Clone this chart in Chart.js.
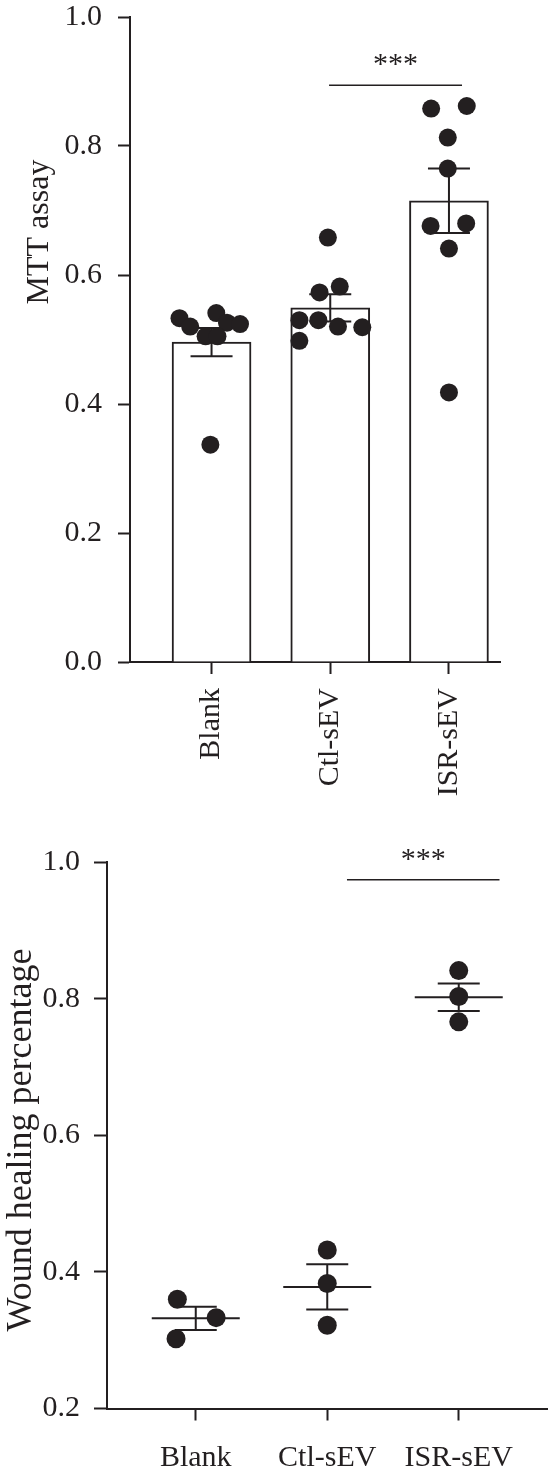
<!DOCTYPE html>
<html>
<head>
<meta charset="utf-8">
<title>MTT assay / Wound healing</title>
<script src="https://cdn.jsdelivr.net/npm/chart.js@4.4.1/dist/chart.umd.min.js"></script>
<style>
    html, body { margin: 0; padding: 0; background: #fff; }
    body { width: 557px; height: 1475px; position: relative; overflow: hidden; }
    canvas { position: absolute; left: 0; }
    #mttChart { top: -17px; }
    #woundChart { top: 820px; }
</style>
</head>
<body>
<canvas id="mttChart" width="557" height="817"></canvas>
<canvas id="woundChart" width="557" height="655"></canvas>
<script>
// ==========================================
// DATOS
// ==========================================
const groups = ['Blank', 'Ctl-sEV', 'ISR-sEV'];

// MTT (barras + puntos)
const mttYTicks = [0, 0.2, 0.4, 0.6, 0.8, 1.0];
const mttMeans = [0.496, 0.549, 0.715];
const mttSem = [0.022, 0.021, 0.050];
const mttBlank = [0.533, 0.520, 0.541, 0.526, 0.524, 0.505, 0.505, 0.337];
const mttCtl = [0.573, 0.582, 0.530, 0.530, 0.520, 0.519, 0.498, 0.658];
const mttIsr = [0.858, 0.862, 0.813, 0.765, 0.676, 0.680, 0.641, 0.418];

// Wound healing (puntos + media ± SEM)
const woundYTicks = [0.2, 0.4, 0.6, 0.8, 1.0];
const woundMeans = [0.332, 0.378, 0.802];
const woundSem = [0.017, 0.033, 0.020];
const woundBlank = [0.360, 0.333, 0.302];
const woundCtl = [0.432, 0.383, 0.322];
const woundIsr = [0.841, 0.803, 0.766];

// horizontal scatter of the dots, in fractions of a group slot
const mttSpread = [
    [-0.27, -0.18, 0.04, 0.13, 0.24, -0.05, 0.05, -0.01],
    [-0.09, 0.08, -0.26, -0.10, 0.065, 0.27, -0.26, -0.02],
    [-0.15, 0.15, -0.01, -0.01, -0.155, 0.145, 0.0, 0.0]
];
const woundSpread = [
    [-0.14, 0.155, -0.15],
    [0, 0, 0],
    [0, 0, 0]
];

// ==========================================
// ESTILO
// ==========================================
const INK = '#231f20';
const FONT = "'Liberation Serif', 'DejaVu Serif', serif";

const toPoints = (values, groupIdx, spread) =>
    values.map((v, i) => ({ x: groupIdx + 1 + spread[i], y: v }));

// error bars (and optional mean line), drawn just before the dots
const errorBarsPlugin = {
    id: 'errorBars',
    beforeDatasetDraw(chart, args, opts) {
        if (args.meta.type !== 'scatter' || !opts.means) return;
        const { ctx, scales: { x, y } } = chart;
        ctx.save();
        ctx.strokeStyle = INK;
        ctx.lineWidth = 2;
        opts.means.forEach((m, i) => {
            const px = x.getPixelForValue(i + 1);
            const yHi = y.getPixelForValue(m + opts.sem[i]);
            const yLo = y.getPixelForValue(m - opts.sem[i]);
            const yM = y.getPixelForValue(m);
            ctx.beginPath();
            ctx.moveTo(px, yHi); ctx.lineTo(px, yLo);
            ctx.moveTo(px - opts.cap, yHi); ctx.lineTo(px + opts.cap, yHi);
            ctx.moveTo(px - opts.cap, yLo); ctx.lineTo(px + opts.cap, yLo);
            if (opts.meanHalf) {
                ctx.moveTo(px - opts.meanHalf, yM); ctx.lineTo(px + opts.meanHalf, yM);
            }
            ctx.stroke();
        });
        ctx.restore();
    }
};

// significance line with ***
const sigPlugin = {
    id: 'sig',
    afterDatasetsDraw(chart, args, opts) {
        if (!opts.text) return;
        const { ctx, scales: { x, y } } = chart;
        const x0 = x.getPixelForValue(opts.from);
        const x1 = x.getPixelForValue(opts.to);
        const py = y.getPixelForValue(opts.y);
        ctx.save();
        ctx.strokeStyle = INK;
        ctx.lineWidth = 1.5;
        ctx.beginPath();
        ctx.moveTo(x0, py); ctx.lineTo(x1, py);
        ctx.stroke();
        ctx.fillStyle = INK;
        ctx.font = '30px ' + FONT;
        ctx.textAlign = 'center';
        ctx.textBaseline = 'alphabetic';
        ctx.fillText(opts.text, (x0 + x1) / 2, py - 12);
        ctx.restore();
    }
};

// rotated y title, placed where the figure puts it
const sideTitlePlugin = {
    id: 'sideTitle',
    afterDraw(chart, args, opts) {
        if (!opts.text) return;
        const ctx = chart.ctx;
        ctx.save();
        ctx.translate(opts.x, opts.y);
        ctx.rotate(-Math.PI / 2);
        ctx.fillStyle = INK;
        ctx.font = opts.size + 'px ' + FONT;
        ctx.textAlign = 'center';
        ctx.textBaseline = 'alphabetic';
        ctx.fillText(opts.text, 0, 0);
        ctx.restore();
    }
};

const axisGrid = (len) => ({
    drawOnChartArea: false, offset: false, tickLength: len, tickWidth: 2, tickColor: INK
});
const axisBorder = { color: INK, width: 2 };
const tickFont = { family: FONT, size: 30 };

// ==========================================
// GRÁFICO 1: MTT
// ==========================================
new Chart(document.getElementById('mttChart'), {
    type: 'bar',
    data: {
        datasets: [
            {
                type: 'bar',
                order: 2,
                data: mttMeans.map((m, i) => ({ x: i + 1, y: m })),
                backgroundColor: '#fff',
                borderColor: INK,
                borderWidth: 2,
                barThickness: 79
            },
            {
                type: 'scatter',
                order: 1,
                data: [
                    ...toPoints(mttBlank, 0, mttSpread[0]),
                    ...toPoints(mttCtl, 1, mttSpread[1]),
                    ...toPoints(mttIsr, 2, mttSpread[2])
                ],
                backgroundColor: INK,
                borderWidth: 0,
                pointRadius: 9,
                pointHoverRadius: 9
            }
        ]
    },
    options: {
        responsive: false,
        animation: false,
        events: [],
        layout: { padding: { top: 18, right: 57, left: 0, bottom: 0 } },
        plugins: {
            legend: { display: false },
            tooltip: { enabled: false },
            errorBars: { means: mttMeans, sem: mttSem, cap: 21, meanHalf: 0 },
            sig: { from: 1.99, to: 3.11, y: 0.894, text: '***' },
            sideTitle: { text: 'MTT assay', x: 48, y: 249, size: 32 }
        },
        scales: {
            x: {
                type: 'linear', min: 0.313, max: 3.43, offset: false,
                afterBuildTicks: s => { s.ticks = groups.map((g, i) => ({ value: i + 1 })); },
                afterFit: s => { s.height = 138; },
                ticks: {
                    autoSkip: false, minRotation: 90, maxRotation: 90, padding: 14,
                    color: INK, font: tickFont,
                    callback: v => groups[Math.round(v) - 1]
                },
                grid: axisGrid(12),
                border: axisBorder
            },
            y: {
                min: 0, max: 1,
                afterBuildTicks: s => { s.ticks = mttYTicks.map(v => ({ value: v })); },
                afterFit: s => { s.width = 130; },
                ticks: { padding: 16, color: INK, font: tickFont, callback: v => v.toFixed(1) },
                grid: axisGrid(12),
                border: axisBorder
            }
        }
    },
    plugins: [errorBarsPlugin, sigPlugin, sideTitlePlugin]
});

// ==========================================
// GRÁFICO 2: WOUND HEALING
// ==========================================
new Chart(document.getElementById('woundChart'), {
    type: 'scatter',
    data: {
        datasets: [{
            data: [
                ...toPoints(woundBlank, 0, woundSpread[0]),
                ...toPoints(woundCtl, 1, woundSpread[1]),
                ...toPoints(woundIsr, 2, woundSpread[2])
            ],
            backgroundColor: INK,
            borderWidth: 0,
            pointRadius: 9.5,
            pointHoverRadius: 9.5
        }]
    },
    options: {
        responsive: false,
        animation: false,
        events: [],
        layout: { padding: { top: 42, right: 0, left: 0, bottom: 0 } },
        plugins: {
            legend: { display: false },
            tooltip: { enabled: false },
            errorBars: { means: woundMeans, sem: woundSem, cap: 21, meanHalf: 44 },
            sig: { from: 2.15, to: 3.31, y: 0.974, text: '***' },
            sideTitle: { text: 'Wound healing percentage', x: 31, y: 320, size: 36 }
        },
        scales: {
            x: {
                type: 'linear', min: 0.325, max: 3.675, offset: false,
                afterBuildTicks: s => { s.ticks = groups.map((g, i) => ({ value: i + 1 })); },
                afterFit: s => { s.height = 66.5; },
                ticks: {
                    autoSkip: false, minRotation: 0, maxRotation: 0, padding: 20,
                    color: INK, font: tickFont,
                    callback: v => groups[Math.round(v) - 1]
                },
                grid: axisGrid(12),
                border: axisBorder
            },
            y: {
                min: 0.2, max: 1,
                afterBuildTicks: s => { s.ticks = woundYTicks.map(v => ({ value: v })); },
                afterFit: s => { s.width = 107; },
                ticks: { padding: 14, color: INK, font: tickFont, callback: v => v.toFixed(1) },
                grid: axisGrid(13),
                border: axisBorder
            }
        }
    },
    plugins: [errorBarsPlugin, sigPlugin, sideTitlePlugin]
});
</script>
</body>
</html>
